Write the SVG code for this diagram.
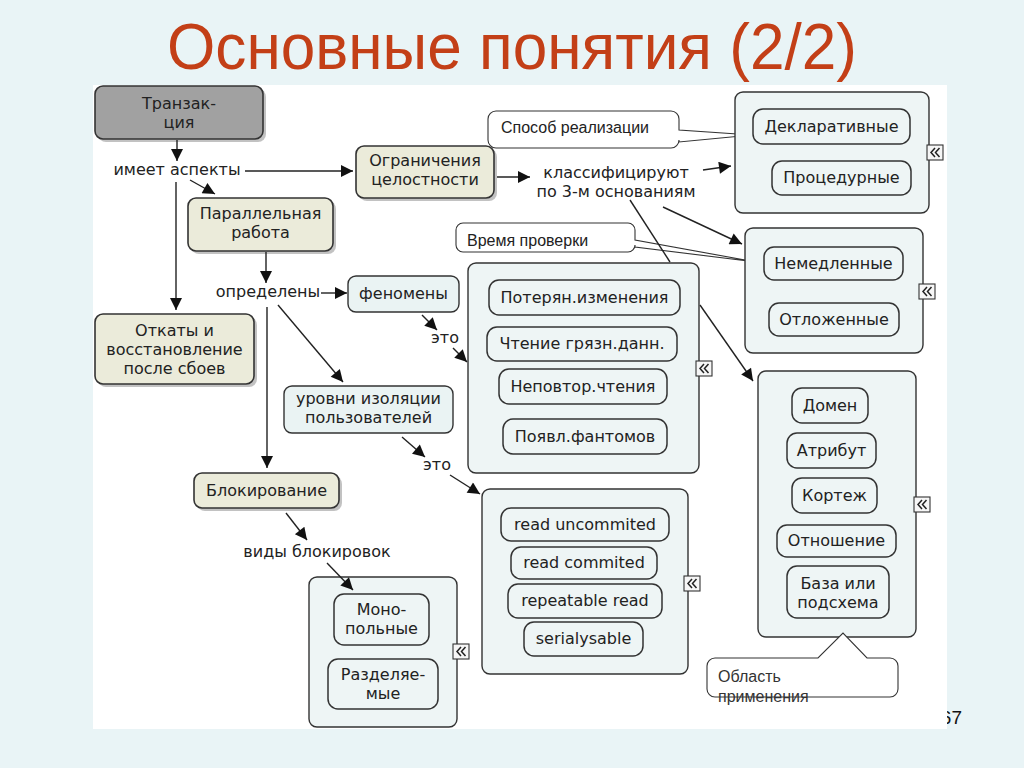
<svg xmlns="http://www.w3.org/2000/svg" width="1024" height="768" viewBox="0 0 1024 768">
<defs>
<style>
.t{font-family:"DejaVu Sans",Verdana,sans-serif;font-size:16px;fill:#222;text-anchor:middle}
.c{font-family:"Liberation Sans",Arial,sans-serif;font-size:16px;fill:#222}
.gray{fill:#a1a1a1;stroke:#333;stroke-width:1.6}
.beige{fill:#ebebda;stroke:#333;stroke-width:1.6}
.blue{fill:#eaf3f3;stroke:#333;stroke-width:1.4}
.cont{fill:#eef5f5;stroke:#333;stroke-width:1.4}
.inner{fill:#eef5f5;stroke:#333;stroke-width:1.5}
.sh{fill:#777;opacity:0.45}
.call{fill:#fff;stroke:#333;stroke-width:1.1}
.ln{fill:none;stroke:#222;stroke-width:1.4}
.ar{fill:none;stroke:#222;stroke-width:1.4;marker-end:url(#ah)}
</style>
<marker id="ah" viewBox="0 0 10 10" refX="10" refY="5" markerWidth="16" markerHeight="12" markerUnits="userSpaceOnUse" orient="auto"><path d="M0,0 L10,5 L0,10 z" fill="#111"/></marker>
<g id="col"><rect x="0" y="0" width="16" height="15" fill="#f6f6f6" stroke="#333" stroke-width="1.1"/><path d="M8,3 L4,7.5 L8,12 M12.5,3 L8.5,7.5 L12.5,12" fill="none" stroke="#222" stroke-width="1.5"/></g>
</defs>
<rect width="1024" height="768" fill="#e9f4f6"/>
<text x="962" y="724" text-anchor="end" style="font-family:'Liberation Sans',Arial,sans-serif;font-size:19px;fill:#111">67</text>
<rect x="93" y="85" width="854" height="644" fill="#fff"/>
<text x="167" y="69" textLength="690" lengthAdjust="spacingAndGlyphs" style="font-family:'Liberation Sans',Arial,sans-serif;font-size:64px;fill:#c33f17">Основные понятия (2/2)</text>

<g id="label-aspekty"><text class="t" x="177" y="175">имеет аспекты</text></g>
<g id="label-opredeleny"><text class="t" x="268" y="297">определены</text></g>
<g id="label-klass"><text class="t" x="616" y="178">классифицируют</text><text class="t" x="616" y="197">по 3-м основаниям</text></g>
<g id="label-eto1"><text class="t" x="445" y="343">это</text></g>
<g id="label-eto2"><text class="t" x="437" y="470">это</text></g>
<g id="label-vidy"><text class="t" x="317" y="557">виды блокировок</text></g>

<g id="tranzakciya"><rect class="sh" x="98" y="89" width="168" height="53" rx="8"/><rect class="gray" x="95" y="86" width="168" height="53" rx="8"/><text class="t" x="179" y="109">Транзак-</text><text class="t" x="179" y="128">ция</text></g>
<g id="parallelnaya"><rect class="sh" x="191" y="201" width="145" height="53" rx="8"/><rect class="beige" x="188" y="198" width="145" height="53" rx="8"/><text class="t" x="260.5" y="219">Параллельная</text><text class="t" x="260.5" y="238">работа</text></g>
<g id="ogranicheniya"><rect class="sh" x="359" y="149" width="138" height="52" rx="8"/><rect class="beige" x="356" y="146" width="138" height="52" rx="8"/><text class="t" x="425" y="166">Ограничения</text><text class="t" x="425" y="185">целостности</text></g>
<g id="otkaty"><rect class="sh" x="98" y="317" width="159" height="70" rx="8"/><rect class="beige" x="95" y="314" width="159" height="70" rx="8"/><text class="t" x="174.5" y="336">Откаты и</text><text class="t" x="174.5" y="355">восстановление</text><text class="t" x="174.5" y="374">после сбоев</text></g>
<g id="blokirovanie"><rect class="sh" x="197" y="476" width="145" height="35" rx="8"/><rect class="beige" x="194" y="473" width="145" height="35" rx="8"/><text class="t" x="266.5" y="496">Блокирование</text></g>
<g id="fenomeny"><rect class="blue" x="348" y="276" width="111" height="36" rx="8"/><text class="t" x="403.5" y="299">феномены</text></g>
<g id="urovni"><rect class="blue" x="284" y="386" width="169" height="47" rx="8"/><text class="t" x="368.5" y="404">уровни изоляции</text><text class="t" x="368.5" y="423">пользователей</text></g>

<g id="callout-sposob"><path class="call" d="M496,111 H671 A8,8 0 0 1 679,119 V130 L752,135 L679,142 V140 A8,8 0 0 1 671,148 H496 A8,8 0 0 1 488,140 V119 A8,8 0 0 1 496,111 Z"/><text class="c" x="501" y="133">Способ реализации</text></g>
<g id="callout-vremya"><path class="call" d="M463,223 H628 A7,7 0 0 1 635,230 V240 L756,262 L635,247 V245 A7,7 0 0 1 628,252 H463 A7,7 0 0 1 456,245 V230 A7,7 0 0 1 463,223 Z"/><text class="c" x="467" y="246">Время проверки</text></g>

<g id="cont-sposob"><rect class="cont" x="735" y="92" width="194" height="121" rx="8"/>
<rect class="inner" x="753" y="109" width="157" height="35" rx="10"/><text class="t" x="831.5" y="132">Декларативные</text>
<rect class="inner" x="772" y="161" width="139" height="34" rx="10"/><text class="t" x="841.5" y="183">Процедурные</text>
<use href="#col" x="927" y="145"/></g>

<g id="cont-vremya"><rect class="cont" x="745" y="228" width="178" height="125" rx="8"/>
<rect class="inner" x="764" y="247" width="139" height="33" rx="10"/><text class="t" x="833.5" y="269">Немедленные</text>
<rect class="inner" x="769" y="303" width="130" height="33" rx="10"/><text class="t" x="834" y="325">Отложенные</text>
<use href="#col" x="919" y="284"/></g>

<g id="cont-oblast"><rect class="cont" x="758" y="371" width="158" height="266" rx="8"/>
<rect class="inner" x="792" y="388" width="76" height="35" rx="10"/><text class="t" x="830" y="411">Домен</text>
<rect class="inner" x="787" y="433" width="89" height="35" rx="10"/><text class="t" x="831.5" y="456">Атрибут</text>
<rect class="inner" x="792" y="478" width="85" height="35" rx="10"/><text class="t" x="834.5" y="501">Кортеж</text>
<rect class="inner" x="777" y="525" width="119" height="32" rx="10"/><text class="t" x="836.5" y="546">Отношение</text>
<rect class="inner" x="787" y="566" width="102" height="52" rx="10"/><text class="t" x="838" y="589">База или</text><text class="t" x="838" y="608">подсхема</text>
<use href="#col" x="914" y="497"/></g>

<g id="callout-oblast"><path class="call" d="M715,658 H818 L843,633 L867,658 H890 A8,8 0 0 1 898,666 V689 A8,8 0 0 1 890,697 H715 A8,8 0 0 1 707,689 V666 A8,8 0 0 1 715,658 Z"/><text class="c" x="718" y="682" style="fill:#333">Область</text><text class="c" x="718" y="702" style="fill:#333">применения</text></g>

<g id="cont-fenomeny"><rect class="cont" x="468" y="263" width="231" height="210" rx="8"/>
<rect class="inner" x="489" y="280" width="191" height="35" rx="10"/><text class="t" x="584.5" y="303">Потерян.изменения</text>
<rect class="inner" x="487" y="327" width="190" height="34" rx="10"/><text class="t" x="582" y="349">Чтение грязн.данн.</text>
<rect class="inner" x="499" y="369" width="168" height="35" rx="10"/><text class="t" x="583" y="392">Неповтор.чтения</text>
<rect class="inner" x="503" y="419" width="164" height="35" rx="10"/><text class="t" x="585" y="442">Появл.фантомов</text>
<use href="#col" x="696" y="361"/></g>

<g id="cont-urovni"><rect class="cont" x="482" y="489" width="206" height="185" rx="8"/>
<rect class="inner" x="501" y="508" width="168" height="33" rx="10"/><text class="t" x="585" y="530">read uncommited</text>
<rect class="inner" x="511" y="547" width="146" height="32" rx="10"/><text class="t" x="584" y="568">read commited</text>
<rect class="inner" x="508" y="584" width="154" height="34" rx="10"/><text class="t" x="585" y="606">repeatable read</text>
<rect class="inner" x="524" y="622" width="119" height="34" rx="10"/><text class="t" x="583.5" y="644">serialysable</text>
<use href="#col" x="684" y="576"/></g>

<g id="cont-blok"><rect class="cont" x="309" y="577" width="148" height="150" rx="8"/>
<rect class="inner" x="334" y="594" width="95" height="51" rx="10"/><text class="t" x="381.5" y="615">Моно-</text><text class="t" x="381.5" y="634">польные</text>
<rect class="inner" x="328" y="659" width="110" height="50" rx="10"/><text class="t" x="383" y="680">Разделяе-</text><text class="t" x="383" y="699">мые</text>
<use href="#col" x="453" y="644"/></g>

<g id="connectors">
<line class="ar" x1="177" y1="140" x2="177" y2="161"/>
<line class="ar" x1="245" y1="171" x2="353" y2="171"/>
<line class="ar" x1="190" y1="180" x2="215" y2="194"/>
<line class="ar" x1="176" y1="182" x2="176" y2="310"/>
<line class="ar" x1="497" y1="177" x2="530" y2="177"/>
<line class="ar" x1="703" y1="170" x2="731" y2="166"/>
<line class="ar" x1="663" y1="207" x2="742" y2="244"/>
<line class="ln" x1="630" y1="200" x2="670" y2="262"/>
<line class="ar" x1="700" y1="305" x2="753" y2="381"/>
<line class="ar" x1="266" y1="252" x2="266" y2="283"/>
<line class="ar" x1="321" y1="293" x2="347" y2="293"/>
<line class="ar" x1="267" y1="307" x2="267" y2="468"/>
<line class="ar" x1="278" y1="305" x2="343" y2="382"/>
<line class="ar" x1="422" y1="315" x2="437" y2="330"/>
<line class="ar" x1="453" y1="348" x2="467" y2="362"/>
<line class="ar" x1="402" y1="437" x2="425" y2="457"/>
<line class="ar" x1="450" y1="475" x2="480" y2="494"/>
<line class="ar" x1="286" y1="513" x2="307" y2="540"/>
<line class="ar" x1="327" y1="563" x2="353" y2="590"/>
</g>
</svg>
